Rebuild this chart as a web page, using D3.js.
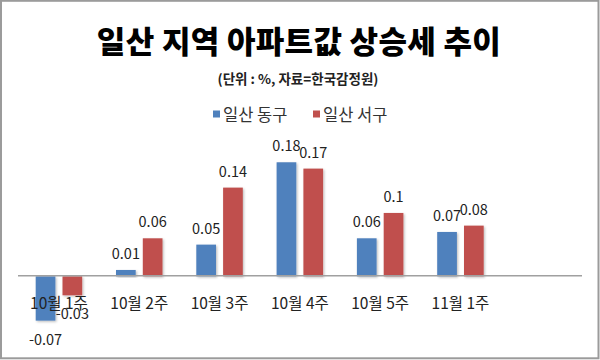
<!DOCTYPE html>
<html>
<head>
<meta charset="utf-8">
<script src="https://cdn.jsdelivr.net/npm/d3@7"></script>
<style>
  html, body { margin: 0; padding: 0; background: #fff; }
  svg { display: block; font-family: "Noto Sans CJK KR", "Noto Sans", sans-serif; }
</style>
</head>
<body>
<svg id="chart" width="600" height="360"></svg>
<script>
const categories = ["10월 1주", "10월 2주", "10월 3주", "10월 4주", "10월 5주", "11월 1주"];
const seriesNames = ["일산 동구", "일산 서구"];
const eastValues = [-0.07, 0.01, 0.05, 0.18, 0.06, 0.07];
const westValues = [-0.03, 0.06, 0.14, 0.17, 0.1, 0.08];
const colors = ["#4f81bd", "#c0504d"];
const titleText = "일산 지역 아파트값 상승세 추이";
const subtitleText = "(단위 : %, 자료=한국감정원)";

const data = categories.map((c, i) => ({ cat: c, values: [eastValues[i], westValues[i]] }));

const svg = d3.select("#chart");

// border
svg.append("rect").attr("x", 1).attr("y", 0.8).attr("width", 597.5).attr("height", 357.5)
  .attr("fill", "#fff").attr("stroke", "#9b9b9b").attr("stroke-width", 2);

const defs = svg.append("defs");
const f = defs.append("filter").attr("id", "shadow").attr("x", "-30%").attr("y", "-10%").attr("width", "160%").attr("height", "130%");
f.append("feDropShadow").attr("dx", 1.2).attr("dy", 1.2).attr("stdDeviation", 1.2)
  .attr("flood-color", "#000").attr("flood-opacity", 0.25);

// title
svg.append("text").attr("x", 299).attr("y", 53).attr("text-anchor", "middle")
  .attr("font-size", 31).attr("font-weight", 900).attr("letter-spacing", 0.3).attr("fill", "#000").text(titleText);
svg.append("text").attr("x", 298).attr("y", 84).attr("text-anchor", "middle")
  .attr("font-size", 13.5).attr("font-weight", 700).attr("fill", "#222").text(subtitleText);

// scales
const plotLeft = 18, plotRight = 582;
const x0 = d3.scaleBand().domain(categories).range([18.8, 18.8 + 80.3 * categories.length]);
const x1 = d3.scaleBand().domain(seriesNames).range([0, 46.5]).paddingInner(0.265);
const y = d3.scaleLinear().domain([-0.1, 0.2]).range([339.65, 149.6]);

// bars
const g = svg.append("g");
const groups = g.selectAll("g.grp").data(data).join("g")
  .attr("transform", d => `translate(${x0(d.cat) + x0.bandwidth() / 2 - 23.25},0)`);

groups.selectAll("rect").data(d => d.values.map((v, i) => ({ v, s: seriesNames[i], i })))
  .join("rect")
  .attr("x", d => x1(d.s))
  .attr("width", x1.bandwidth())
  .attr("y", d => y(Math.max(0, d.v)))
  .attr("height", d => Math.abs(y(d.v) - y(0)))
  .attr("fill", d => colors[d.i])
  .attr("filter", "url(#shadow)");

// zero axis line
svg.append("line").attr("x1", plotLeft).attr("x2", plotRight)
  .attr("y1", y(0) - 0.5).attr("y2", y(0) - 0.5)
  .attr("stroke", "#a0a0a0").attr("stroke-width", 1.5);

// category labels
const xAxis = d3.axisBottom(x0).tickSize(0).tickPadding(0);
const ax = svg.append("g").attr("transform", `translate(0,${308.5})`).call(xAxis);
ax.select(".domain").remove();
ax.selectAll("text").attr("font-size", 15.5).attr("fill", "#222")
  .attr("font-family", "'Noto Sans CJK KR', sans-serif").attr("dy", 0);

// value labels
groups.selectAll("text.val").data(d => d.values.map((v, i) => ({ v, s: seriesNames[i], i })))
  .join("text").attr("class", "val")
  .attr("x", d => x1(d.s) + x1.bandwidth() / 2)
  .attr("y", d => d.v >= 0 ? y(d.v) - 11 : y(d.v) + 24)
  .attr("text-anchor", "middle").attr("font-size", 14.5).attr("fill", "#222")
  .text(d => String(d.v));

// legend
const legend = svg.append("g");
const legX = [213, 313];
seriesNames.forEach((s, i) => {
  legend.append("rect").attr("x", legX[i]).attr("y", 110.5).attr("width", 7).attr("height", 7).attr("fill", colors[i]);
  legend.append("text").attr("x", legX[i] + 10).attr("y", 120.5).attr("font-size", 16.5).attr("fill", "#333").text(s);
});
</script>
</body>
</html>
